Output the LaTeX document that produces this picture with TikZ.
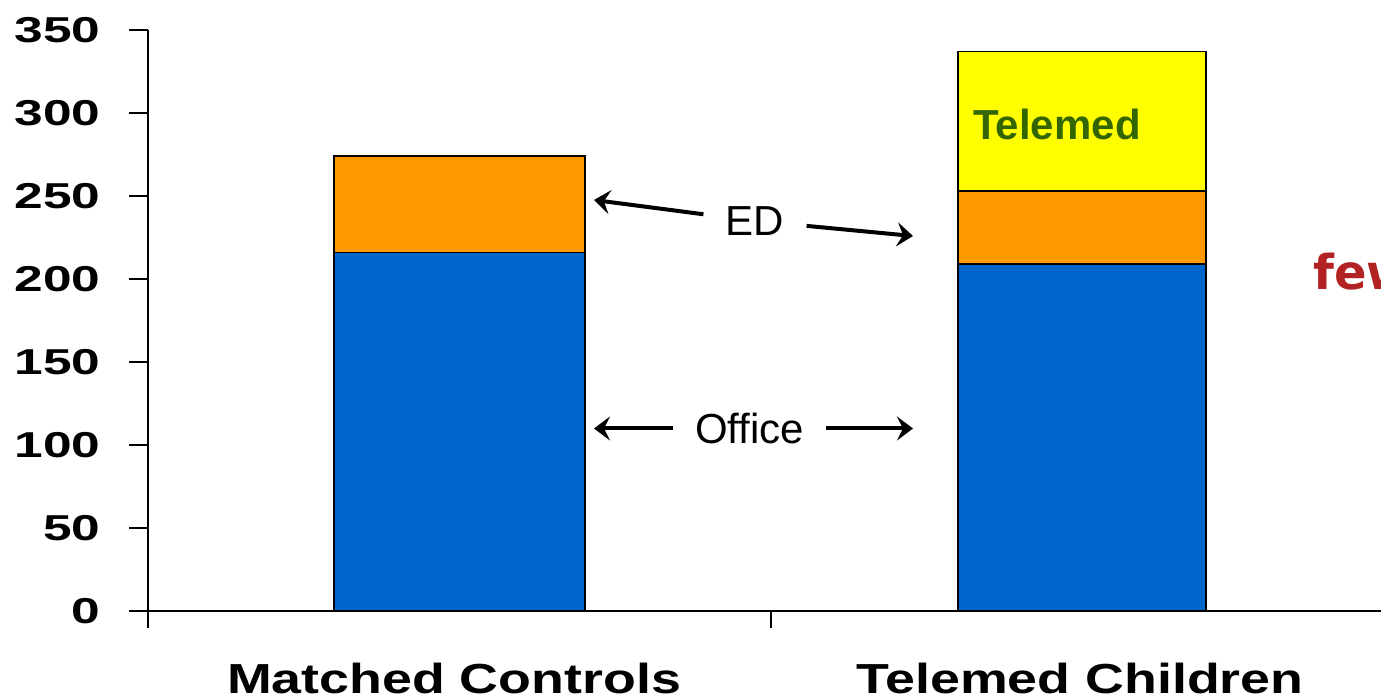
\documentclass[tikz,border=0pt]{standalone}
\usepackage{fontspec}
\setmainfont{Liberation Sans}
\newfontfamily\fewfont{DejaVu Sans}
\usetikzlibrary{arrows.meta, positioning}
\definecolor{officeblue}{RGB}{0,102,204}
\definecolor{edorange}{RGB}{255,153,0}
\definecolor{teleyellow}{RGB}{255,255,0}
\definecolor{telegreen}{RGB}{51,102,0}
\definecolor{fewred}{RGB}{178,34,34}

\begin{document}
\begin{tikzpicture}[x=0.5pt, y=-0.5pt,
    axis/.style={line width=1pt},
    bar/.style={draw=black, line width=0.75pt},
    ticklbl/.style={anchor=east, inner sep=0pt, font=\bfseries\fontsize{18}{18}\selectfont, xscale=1.43},
    catlbl/.style={anchor=base, inner sep=0pt, font=\bfseries\fontsize{21}{21}\selectfont, xscale=1.28},
    callout/.style={font=\fontsize{21}{21}\selectfont, inner xsep=11pt},
    pointer/.style={-{Stealth[length=8pt, width=12pt, inset=3pt]}, line width=2pt}]
    \useasboundingbox (0,0) rectangle (1381,699);
    % axes and ticks
    \draw[axis] (148,30) -- (148,628);
    \draw[axis] (148,611) -- (1381,611);
    \draw[axis] (771,611) -- (771,628);
    \foreach \v [count=\k] in {0,50,...,350} {
        \draw[axis] (129,{611-1.66*\v}) -- (148,{611-1.66*\v});
        \node[ticklbl] (tick\k) at (101,{611-1.66*\v}) {\v};
    }
    % bars
    \filldraw[bar, fill=officeblue] (334,611) rectangle (585,{611-1.66*216});
    \filldraw[bar, fill=edorange] (334,{611-1.66*216}) rectangle (585,{611-1.66*274});
    \filldraw[bar, fill=officeblue] (958,611) rectangle (1206,{611-1.66*209});
    \filldraw[bar, fill=edorange] (958,{611-1.66*209}) rectangle (1206,{611-1.66*253});
    \filldraw[bar, fill=teleyellow] (958,{611-1.66*253}) rectangle (1206,{611-1.66*337});
    % labels
    \node[anchor=base west, inner sep=0pt, font=\bfseries\fontsize{21}{21}\selectfont, text=telegreen] (telelbl) at (973,140) {Telemed};
    \node[anchor=base west, inner sep=0pt, font=\fewfont\bfseries\fontsize{24}{24}\selectfont, text=fewred] (few) at (1313,290) {few};
    \node[catlbl] (matched) at (454,693) {Matched Controls};
    \node[catlbl] (children) at (1080,693) {Telemed Children};
    % pointers
    \node[callout] (ed) at (755,221) {ED};
    \coordinate (edL) at (594,200);
    \coordinate (edR) at (913,236);
    \draw[pointer] (ed) -- (edL);
    \draw[pointer] (ed) -- (edR);
    \node[callout] (office) at (749.5,428.5) {Office};
    \coordinate (officeL) at (594,428.5);
    \coordinate (officeR) at (913,428.5);
    \draw[pointer] (office) -- (officeL);
    \draw[pointer] (office) -- (officeR);
\end{tikzpicture}
\end{document}
